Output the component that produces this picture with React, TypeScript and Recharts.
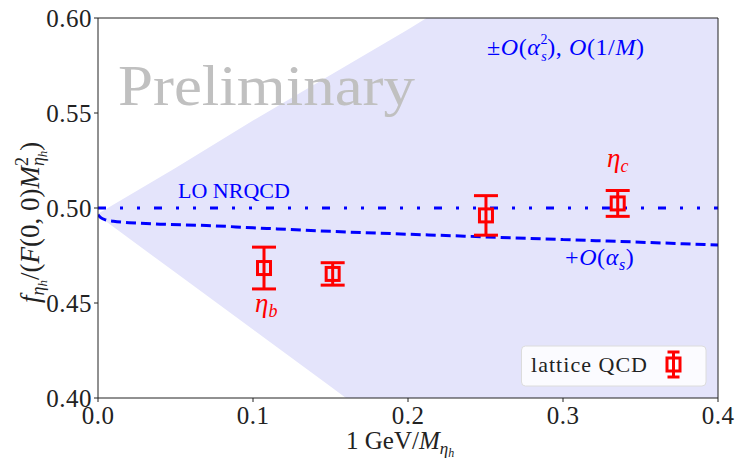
import React from 'react';
import {
  Area,
  ComposedChart,
  ErrorBar,
  Line,
  ReferenceLine,
  Scatter,
  XAxis,
  YAxis,
} from 'recharts';

// axis ticks
const xTicks = [0, 0.1, 0.2, 0.3, 0.4];
const yTicks = [0.4, 0.45, 0.5, 0.55, 0.6];

// uncertainty band +-O(alpha_s^2), O(1/M)
const bandX = [0, 0.05, 0.1, 0.15, 0.2, 0.25, 0.3, 0.35, 0.4];
const bandLow = [0.496, 0.466, 0.436, 0.406, 0.376, 0.346, 0.316, 0.286, 0.256];
const bandHigh = [0.497, 0.521, 0.546, 0.57, 0.594, 0.619, 0.643, 0.667, 0.692];

// LO NRQCD
const loX = [0, 0.4];
const loY = [0.5, 0.5];

// + O(alpha_s)
const nloX = [0, 0.002, 0.005, 0.01, 0.02, 0.04, 0.07, 0.1, 0.15, 0.2, 0.25, 0.3, 0.35, 0.4];
const nloY = [0.4965, 0.4948, 0.4937, 0.493, 0.4923, 0.4915, 0.4908, 0.4896, 0.4877, 0.4862, 0.4848, 0.4834, 0.482, 0.4805];

// lattice QCD points
const latX = [0.1071, 0.1514, 0.2503, 0.3353];
const latY = [0.4684, 0.4653, 0.4961, 0.5024];
const latErr = [0.011, 0.0059, 0.0104, 0.0068];

const bandData = bandX.map((x, i) => ({x, range: [bandLow[i], bandHigh[i]]}));
const loData = loX.map((x, i) => ({x, y: loY[i]}));
const nloData = nloX.map((x, i) => ({x, y: nloY[i]}));
const latData = latX.map((x, i) => ({x, y: latY[i], err: latErr[i]}));

const font = 'Liberation Serif';
const axisColor = '#222';

const SquareMarker = (props: any) => {
  const {cx, cy} = props;
  return (
    <rect x={cx - 6.5} y={cy - 6.5} width={13} height={13} fill="none" stroke="#ff0000" strokeWidth={3} />
  );
};

export default function App() {
  return (
    <div style={{position: 'absolute', left: 0, top: 0, width: 737, height: 463, background: '#fff', fontFamily: font}}>
      <ComposedChart
        width={737}
        height={463}
        margin={{top: 18, right: 19, bottom: 25, left: 38}}
        style={{fontFamily: font}}
      >
        <XAxis
          dataKey="x"
          type="number"
          domain={[0, 0.4]}
          ticks={xTicks}
          tickFormatter={(v: number) => v.toFixed(1)}
          allowDataOverflow
          height={40}
          stroke={axisColor}
          tickSize={4}
          tickMargin={4}
          tick={{fill: '#222', fontSize: 25, fontFamily: font, letterSpacing: 0.5}}
        />
        <YAxis
          type="number"
          domain={[0.4, 0.6]}
          ticks={yTicks}
          tickFormatter={(v: number) => v.toFixed(2)}
          allowDataOverflow
          width={60}
          stroke={axisColor}
          tickSize={4}
          tickMargin={2}
          tick={{fill: '#222', fontSize: 25, fontFamily: font, letterSpacing: 0.5}}
        />
        <Area
          data={bandData}
          dataKey="range"
          type="linear"
          stroke="none"
          fill="#e4e4fb"
          fillOpacity={1}
          isAnimationActive={false}
        />
        <Line
          data={loData}
          dataKey="y"
          type="linear"
          stroke="#0000ff"
          strokeWidth={3}
          strokeDasharray="8 14 3 14 3 14"
          dot={false}
          isAnimationActive={false}
        />
        <Line
          data={nloData}
          dataKey="y"
          type="monotone"
          stroke="#0000ff"
          strokeWidth={3}
          strokeDasharray="10 5"
          dot={false}
          isAnimationActive={false}
        />
        <Scatter data={latData} dataKey="y" shape={SquareMarker} isAnimationActive={false}>
          <ErrorBar dataKey="err" direction="y" width={12} stroke="#ff0000" strokeWidth={3} isAnimationActive={false} />
        </Scatter>
        <ReferenceLine y={0.6} stroke={axisColor} strokeWidth={1} />
        <ReferenceLine x={0.4} stroke={axisColor} strokeWidth={1} />
      </ComposedChart>

      <svg
        width={737}
        height={463}
        style={{position: 'absolute', left: 0, top: 0, pointerEvents: 'none', fontFamily: font}}
      >
        <text x={118} y={105} fontSize={58} fill="#c0c0c0" textLength={297} lengthAdjust="spacingAndGlyphs">
          Preliminary
        </text>

        <text x={178} y={198} fontSize={22} fill="#0000ff">
          LO NRQCD
        </text>

        <text x={487} y={55} fontSize={24} fill="#0000ff" letterSpacing={0.6}>
          ±<tspan fontStyle="italic">O</tspan>(<tspan fontStyle="italic">α</tspan>
          <tspan fontSize={14} dy={-11}>2</tspan>
          <tspan fontSize={14} fontStyle="italic" dx={-7} dy={17}>s</tspan>
          <tspan dy={-6}>), </tspan>
          <tspan fontStyle="italic">O</tspan>(1/<tspan fontStyle="italic">M</tspan>)
        </text>

        <text x={565} y={265} fontSize={24} fill="#0000ff" letterSpacing={0.6}>
          +<tspan fontStyle="italic">O</tspan>(<tspan fontStyle="italic">α</tspan>
          <tspan fontSize={16} fontStyle="italic" dy={5}>s</tspan>
          <tspan dy={-5}>)</tspan>
        </text>

        <text x={255} y={312} fontSize={27} fill="#ff0000" fontStyle="italic">
          η<tspan fontSize={18} dy={5}>b</tspan>
        </text>
        <text x={607} y={167} fontSize={27} fill="#ff0000" fontStyle="italic">
          η<tspan fontSize={18} dy={5}>c</tspan>
        </text>

        <text x={346} y={449} fontSize={25} fill="#222">
          1 GeV/<tspan fontStyle="italic">M</tspan>
          <tspan fontSize={17} fontStyle="italic" dy={5}>η</tspan>
          <tspan fontSize={12} fontStyle="italic" dy={3}>h</tspan>
        </text>

        <g transform="translate(39,303) rotate(-90)">
          <text x={0} y={0} fontSize={27} fill="#222">
            <tspan fontStyle="italic">f</tspan>
            <tspan fontSize={18} fontStyle="italic" dy={5}>η</tspan>
            <tspan fontSize={13} fontStyle="italic" dy={3}>h</tspan>
            <tspan dy={-8}>/(</tspan>
            <tspan fontStyle="italic">F</tspan>(0, 0)<tspan fontStyle="italic">M</tspan>
            <tspan fontSize={18} dy={-11}>2</tspan>
            <tspan fontSize={18} fontStyle="italic" dx={-9} dy={16}>η</tspan>
            <tspan fontSize={13} fontStyle="italic" dy={3}>h</tspan>
            <tspan dy={-8}>)</tspan>
          </text>
        </g>

        <rect x={521.5} y={346} width={184.5} height={40} rx={4} fill="#fbfbff" stroke="#dcdcdc" strokeWidth={1} />
        <text x={531} y={372} fontSize={22} fill="#222" textLength={116}>
          lattice QCD
        </text>
        <g stroke="#ff0000" strokeWidth={3} fill="none">
          <line x1={673.5} y1={352} x2={673.5} y2={377} />
          <line x1={667.5} y1={352} x2={679.5} y2={352} />
          <line x1={667.5} y1={377} x2={679.5} y2={377} />
          <rect x={667} y={358} width={13} height={13} />
        </g>
      </svg>
    </div>
  );
}
